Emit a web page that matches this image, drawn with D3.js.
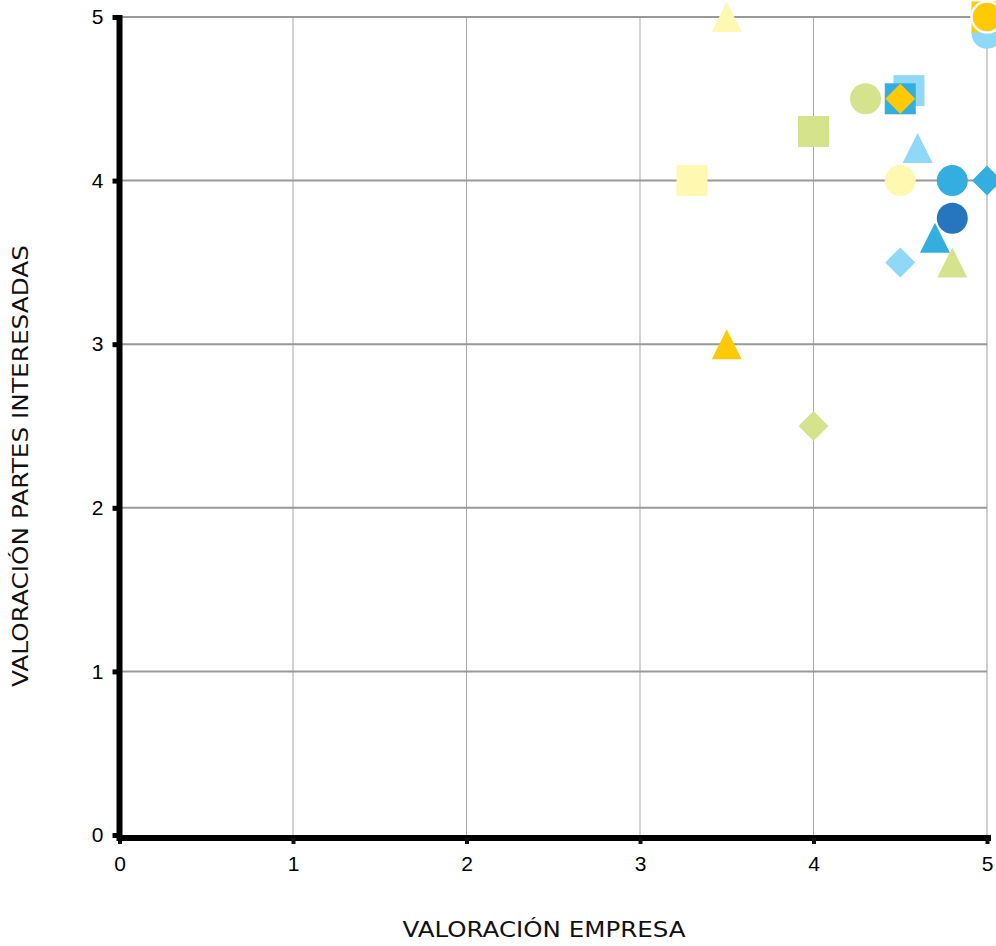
<!DOCTYPE html>
<html>
<head>
<meta charset="utf-8">
<script src="https://cdn.jsdelivr.net/npm/d3@7"></script>
<style>
  html, body { margin: 0; padding: 0; background: #fff; overflow: hidden; }
  svg { display: block; }
</style>
</head>
<body>
<svg id="chart" width="996" height="946"></svg>
<script>
// ---- data ----
const xTicks = [0, 1, 2, 3, 4, 5];
const yTicks = [0, 1, 2, 3, 4, 5];
const xTitle = "VALORACIÓN EMPRESA";
const yTitle = "VALORACIÓN PARTES INTERESADAS";

// each point: empresa (x), partes interesadas (y), series id
const empresa = [4.55, 4.5, 4.5, 4.3, 4.0, 3.3, 3.5, 4.6, 4.5, 4.8, 5.0, 4.8, 4.7, 4.5, 4.8, 3.5, 4.0, 5.0, 5.0, 5.0];
const partes  = [4.55, 4.5, 4.5, 4.5, 4.3, 4.0, 5.0, 4.2, 4.0, 4.0, 4.0, 3.77, 3.65, 3.5, 3.5, 3.0, 2.5, 4.9, 5.0, 5.0];
const series  = ["s1","s2","s3","s4","s5","s6","s7","s8","s9","s10","s11","s12","s13","s14","s15","s16","s17","s18","s19","s20"];

// ---- styles (by series) ----
const C = { ly: "#FFF8B0", gold: "#FFCA05", green: "#D4E38C", lb: "#8FD8F7", blue: "#33AEDF", dblue: "#2676BF" };
const styleOf = {
  s1: ["square", C.lb], s2: ["square", C.blue], s3: ["diamond", C.gold], s4: ["circle", C.green],
  s5: ["square", C.green], s6: ["square", C.ly], s7: ["triangle", C.ly], s8: ["triangle", C.lb],
  s9: ["circle", C.ly], s10: ["circle", C.blue], s11: ["diamond", C.blue], s12: ["circle", C.dblue],
  s13: ["triangle", C.blue], s14: ["diamond", C.lb], s15: ["triangle", C.green], s16: ["triangle", C.gold],
  s17: ["diamond", C.green], s18: ["circle", C.lb], s19: ["square", C.gold], s20: ["circleW", C.gold]
};

const points = empresa.map((v, i) => ({ x: v, y: partes[i], s: series[i] }));

// ---- layout ----
const svg = d3.select("#chart");
const x = d3.scaleLinear().domain([0, 5]).range([119.5, 987]);
const y = d3.scaleLinear().domain([0, 5]).range([835, 17]);

// gridlines
svg.append("g").selectAll("line").data(xTicks.slice(1)).join("line")
  .attr("x1", d => x(d)).attr("x2", d => x(d))
  .attr("y1", y(5)).attr("y2", y(0))
  .attr("stroke", (d) => d === 5 ? "#cfcfcf" : "#a8a8a8").attr("stroke-width", d => d === 5 ? 2 : 1);
svg.append("g").selectAll("line").data(yTicks.slice(1)).join("line")
  .attr("x1", x(0)).attr("x2", x(5))
  .attr("y1", d => y(d)).attr("y2", d => y(d))
  .attr("stroke", "#999").attr("stroke-width", 2);

// markers
function shapePath(kind) {
  const s = 15.5;
  if (kind === "square") return `M${-s},${-s}H${s}V${s}H${-s}Z`;
  if (kind === "diamond") return `M0,${-15}L15,0L0,15L-15,0Z`;
  if (kind === "triangle") return `M0,-15L15,15L-15,15Z`;
  return d3.symbol().type(d3.symbolCircle).size(Math.PI * 15.5 * 15.5)();
}
svg.append("g").selectAll("path").data(points).join("path")
  .attr("transform", d => `translate(${x(d.x)},${y(d.y)})`)
  .attr("d", d => shapePath(styleOf[d.s][0] === "circleW" ? "circle" : styleOf[d.s][0]))
  .attr("fill", d => styleOf[d.s][1])
  .attr("stroke", d => styleOf[d.s][0] === "circleW" ? "#fff" : "none")
  .attr("stroke-width", 2.5);

// axes
const xAxis = d3.axisBottom(x).tickValues(xTicks).tickSize(6).tickPadding(12).tickFormat(d3.format("d"));
const gx = svg.append("g").attr("transform", `translate(0,${y(0) + 3})`).call(xAxis);
gx.select(".domain").attr("stroke", "#000").attr("stroke-width", 6).attr("d", `M${x(0) - 2},0H${x(5) + 4}`);
gx.selectAll(".tick line").attr("stroke", "#111").attr("stroke-width", 4);
gx.selectAll(".tick text").attr("font-family", "Liberation Sans, Arial, sans-serif").attr("font-size", 21).attr("fill", "#000");

const yAxis = d3.axisLeft(y).tickValues(yTicks).tickSize(7).tickPadding(9).tickFormat(d3.format("d"));
const gy = svg.append("g").attr("transform", `translate(${x(0)},0)`).call(yAxis);
gy.select(".domain").attr("stroke", "#000").attr("stroke-width", 6).attr("d", `M0,${y(5) - 2}V${y(0) + 6}`);
gy.selectAll(".tick line").attr("stroke", "#000").attr("stroke-width", 5);
gy.selectAll(".tick text").attr("font-family", "Liberation Sans, Arial, sans-serif").attr("font-size", 21).attr("fill", "#000");

// titles
svg.append("text").attr("x", 544).attr("y", 937).attr("text-anchor", "middle")
  .attr("font-family", "DejaVu Sans, sans-serif").attr("font-size", 21).attr("fill", "#111")
  .attr("textLength", 283).attr("lengthAdjust", "spacingAndGlyphs")
  .text(xTitle);
svg.append("text").attr("transform", "translate(28,466) rotate(-90)").attr("text-anchor", "middle")
  .attr("font-family", "DejaVu Sans, sans-serif").attr("font-size", 21).attr("fill", "#111")
  .attr("textLength", 442).attr("lengthAdjust", "spacingAndGlyphs")
  .text(yTitle);
</script>
</body>
</html>
